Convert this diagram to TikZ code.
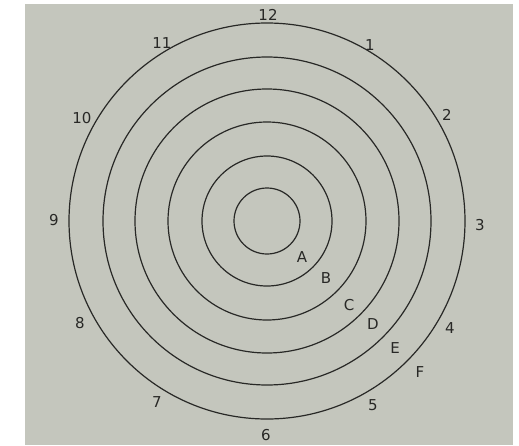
\documentclass[tikz,border=0pt]{standalone}
\usepackage{fontspec}
\setmainfont{DejaVu Sans}
\definecolor{paper}{RGB}{196,198,189}
\definecolor{ink}{RGB}{40,40,38}
\tikzset{
  ring/.style={draw=ink, line width=1.2pt},
  lbl/.style={text=ink, font=\fontsize{15}{15}\selectfont, inner sep=0pt}
}
\begin{document}
\begin{tikzpicture}[x=1pt,y=-1pt]
\useasboundingbox (0,0) rectangle (519,445);
\fill[white] (0,0) rectangle (519,445);
\fill[paper] (25,4) rectangle (513,445);
\coordinate (O) at (267,221);
\foreach \r in {33,65,99,132,164,198}{
  \draw[ring] (O) circle[radius=\r pt];
}
\node[lbl] (n12) at (268,15) {12};
\node[lbl] (n1) at (370,45) {1};
\node[lbl] (n2) at (447,115) {2};
\node[lbl] (n3) at (480,225) {3};
\node[lbl] (n4) at (450,328) {4};
\node[lbl] (n5) at (373,405) {5};
\node[lbl] (n6) at (266,435) {6};
\node[lbl] (n7) at (157,402) {7};
\node[lbl] (n8) at (80,323) {8};
\node[lbl] (n9) at (54,220) {9};
\node[lbl] (n10) at (82,118) {10};
\node[lbl] (n11) at (162,43) {11};
\node[lbl] (A) at (302,257) {A};
\node[lbl] (B) at (326,278) {B};
\node[lbl] (C) at (349,305) {C};
\node[lbl] (D) at (373,324) {D};
\node[lbl] (E) at (395,348) {E};
\node[lbl] (F) at (420,372) {F};
\end{tikzpicture}
\end{document}
